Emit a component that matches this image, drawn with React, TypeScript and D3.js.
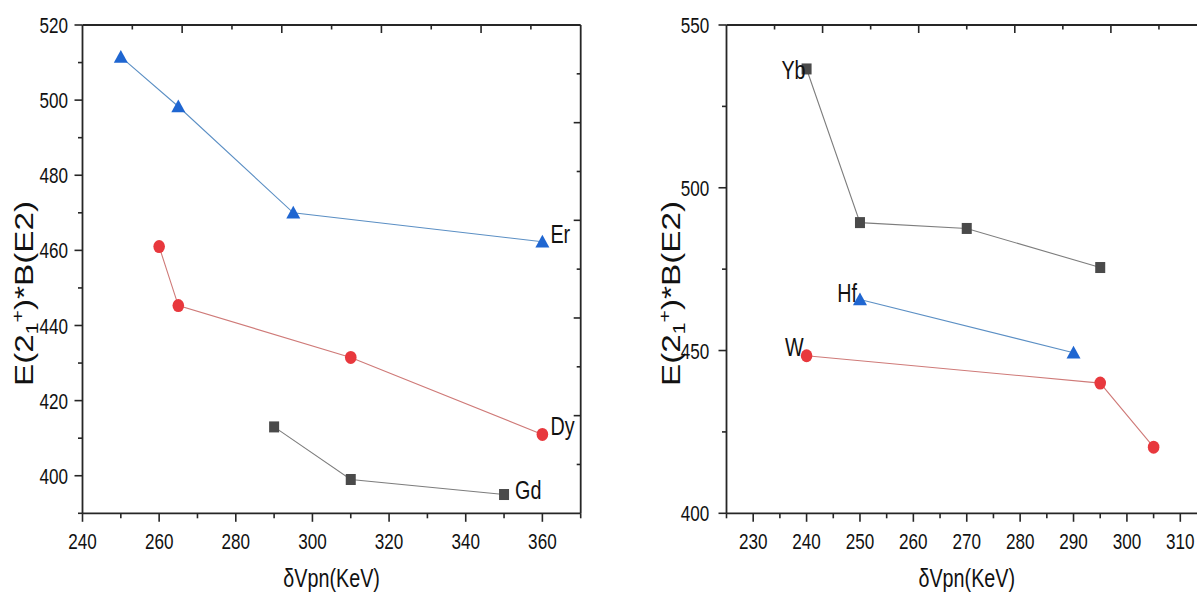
import React from 'react';
import * as d3 from 'd3';

// ---------- data ----------
const erX = [250, 265, 295, 360];
const erY = [511.5, 498.3, 470, 462.3];
const dyX = [260, 265, 310, 360];
const dyY = [461, 445.3, 431.5, 411];
const gdX = [290, 310, 350];
const gdY = [413, 399, 395];

const ybX = [240, 250, 270, 295];
const ybY = [536.5, 489.3, 487.5, 475.5];
const hfX = [250, 290];
const hfY = [465.7, 449.3];
const wX = [240, 295, 305];
const wY = [448.4, 440, 420.3];

const leftXDomain = [240, 370];
const leftYDomain = [390, 520];
const leftXTicks = [240, 260, 280, 300, 320, 340, 360];
const leftXMinor = [250, 270, 290, 310, 330, 350, 370];
const leftYTicks = [400, 420, 440, 460, 480, 500, 520];
const leftYMinor = [390, 410, 430, 450, 470, 490, 510];

const rightXDomain = [225, 315];
const rightYDomain = [400, 550];
const rightXTicks = [230, 240, 250, 260, 270, 280, 290, 300, 310];
const rightXMinor = [225, 235, 245, 255, 265, 275, 285, 295, 305, 315];
const rightYTicks = [400, 450, 500, 550];
const rightYMinor = [425, 475, 525];

const xTitle = 'δVpn(KeV)';

// ---------- styles ----------
const FONT = "'Liberation Sans', Arial, sans-serif";
const SQUEEZE = 0.76;
const AXIS = '#262626';
const BLUE = '#1f66d1';
const BLUE_LINE = '#5b8fc4';
const RED = '#e8383d';
const RED_LINE = '#cf7a78';
const GRAY = '#4a4a4a';
const GRAY_LINE = '#7d7d7d';

type Series = {
  xs: number[]; ys: number[]; marker: 'tri' | 'circ' | 'sq';
  color: string; lineColor: string; name: string;
  labelIdx: number; ldx: number; ldy: number; anchor: 'start' | 'end';
};

const leftSeries: Series[] = [
  { xs: erX, ys: erY, marker: 'tri', color: BLUE, lineColor: BLUE_LINE, name: 'Er', labelIdx: 3, ldx: 8, ldy: 1, anchor: 'start' },
  { xs: dyX, ys: dyY, marker: 'circ', color: RED, lineColor: RED_LINE, name: 'Dy', labelIdx: 3, ldx: 8, ldy: 1, anchor: 'start' },
  { xs: gdX, ys: gdY, marker: 'sq', color: GRAY, lineColor: GRAY_LINE, name: 'Gd', labelIdx: 2, ldx: 11, ldy: 4, anchor: 'start' },
];
const rightSeries: Series[] = [
  { xs: ybX, ys: ybY, marker: 'sq', color: GRAY, lineColor: GRAY_LINE, name: 'Yb', labelIdx: 0, ldx: -1, ldy: 10.5, anchor: 'end' },
  { xs: hfX, ys: hfY, marker: 'tri', color: BLUE, lineColor: BLUE_LINE, name: 'Hf', labelIdx: 0, ldx: -3, ldy: 3, anchor: 'end' },
  { xs: wX, ys: wY, marker: 'circ', color: RED, lineColor: RED_LINE, name: 'W', labelIdx: 0, ldx: -3, ldy: 0, anchor: 'end' },
];

type PanelCfg = {
  xDomain: number[]; yDomain: number[]; xRange: [number, number]; yRange: [number, number];
  xTicks: number[]; xMinor: number[]; yTicks: number[]; yMinor: number[];
  series: Series[]; yLabelGap: number; yTitleX: number;
};

const panels: PanelCfg[] = [
  {
    xDomain: leftXDomain, yDomain: leftYDomain, xRange: [82.5, 580.7], yRange: [513.3, 25],
    xTicks: leftXTicks, xMinor: leftXMinor, yTicks: leftYTicks, yMinor: leftYMinor,
    series: leftSeries, yLabelGap: 14.5, yTitleX: 32.5,
  },
  {
    xDomain: rightXDomain, yDomain: rightYDomain, xRange: [726.5, 1207], yRange: [513.3, 25],
    xTicks: rightXTicks, xMinor: rightXMinor, yTicks: rightYTicks, yMinor: rightYMinor,
    series: rightSeries, yLabelGap: 17.2, yTitleX: 680,
  },
];

function NText({ x, y, size, anchor, children, dy }: { x: number; y: number; size: number; anchor: string; children: React.ReactNode; dy?: string }) {
  return (
    <text transform={`translate(${x},${y}) scale(${SQUEEZE},1)`} dy={dy} textAnchor={anchor}
      fontFamily={FONT} fontSize={size} fill="#111">{children}</text>
  );
}

function Marker({ kind, cx, cy, color }: { kind: string; cx: number; cy: number; color: string }) {
  if (kind === 'tri') {
    return <path d={`M${cx},${cy - 7} L${cx + 7},${cy + 5.8} L${cx - 7},${cy + 5.8} Z`} fill={color} />;
  }
  if (kind === 'circ') {
    return <ellipse cx={cx} cy={cy} rx={5.8} ry={6.5} fill={color} />;
  }
  return <rect x={cx - 5} y={cy - 5.5} width={10} height={11} fill={color} />;
}

function Panel({ cfg }: { cfg: PanelCfg }) {
  const x = d3.scaleLinear().domain(cfg.xDomain).range(cfg.xRange);
  const y = d3.scaleLinear().domain(cfg.yDomain).range(cfg.yRange);
  const fx = d3.scaleLinear().domain([0, 10]).range(cfg.xRange);
  const fy = d3.scaleLinear().domain([0, 10]).range(cfg.yRange);
  const [x0, x1] = cfg.xRange;
  const [yb, yt] = cfg.yRange;
  const line = d3.line<[number, number]>().x(d => x(d[0])).y(d => y(d[1]));
  const frameTicks = d3.range(1, 10);
  const cx = (x0 + x1) / 2;

  return (
    <g>
      {cfg.series.map(s => (
        <path key={'l' + s.name} d={line(s.xs.map((v, i) => [v, s.ys[i]] as [number, number])) || ''}
          fill="none" stroke={s.lineColor} strokeWidth={1.1} />
      ))}
      {cfg.series.map(s => s.xs.map((v, i) => (
        <Marker key={s.name + i} kind={s.marker} cx={x(v)} cy={y(s.ys[i])} color={s.color} />
      )))}
      {cfg.series.map(s => (
        <NText key={'t' + s.name} x={x(s.xs[s.labelIdx]) + s.ldx} y={y(s.ys[s.labelIdx]) + s.ldy}
          anchor={s.anchor} size={26}>{s.name}</NText>
      ))}

      {/* frame */}
      <line x1={x0} x2={x1} y1={yb} y2={yb} stroke={AXIS} strokeWidth={1.8} />
      <line x1={x0} x2={x1} y1={yt} y2={yt} stroke={AXIS} strokeWidth={1.8} />
      <line x1={x0} x2={x0} y1={yb} y2={yt} stroke={AXIS} strokeWidth={1.8} />
      <line x1={x1} x2={x1} y1={yb} y2={yt} stroke={AXIS} strokeWidth={1.8} />

      {/* bottom ticks (outward) */}
      {cfg.xTicks.map(t => (
        <line key={'bx' + t} x1={x(t)} x2={x(t)} y1={yb} y2={yb + 8.5} stroke={AXIS} strokeWidth={1.6} />
      ))}
      {cfg.xMinor.map(t => (
        <line key={'bm' + t} x1={x(t)} x2={x(t)} y1={yb} y2={yb + 5} stroke={AXIS} strokeWidth={1.6} />
      ))}
      {cfg.xTicks.map(t => (
        <NText key={'bl' + t} x={x(t)} y={548.5} anchor="middle" size={22.5}>{t}</NText>
      ))}

      {/* left ticks (outward) */}
      {cfg.yTicks.map(t => (
        <line key={'ly' + t} x1={x0 - 8} x2={x0} y1={y(t)} y2={y(t)} stroke={AXIS} strokeWidth={1.6} />
      ))}
      {cfg.yMinor.map(t => (
        <line key={'lm' + t} x1={x0 - 4.5} x2={x0} y1={y(t)} y2={y(t)} stroke={AXIS} strokeWidth={1.6} />
      ))}
      {cfg.yTicks.map(t => (
        <NText key={'ll' + t} x={x0 - cfg.yLabelGap} y={y(t)} dy="0.36em" anchor="end" size={22.5}>{t}</NText>
      ))}

      {/* top / right frame ticks (inward) */}
      {frameTicks.map(k => (
        <line key={'tt' + k} x1={fx(k)} x2={fx(k)} y1={yt} y2={yt + (k % 2 === 0 ? 8 : 4.5)} stroke={AXIS} strokeWidth={1.6} />
      ))}
      {frameTicks.map(k => (
        <line key={'rt' + k} x1={x1} x2={x1 - (k % 2 === 0 ? 7 : 4)} y1={fy(k)} y2={fy(k)} stroke={AXIS} strokeWidth={1.6} />
      ))}

      {/* axis titles */}
      <NText x={cx} y={587} anchor="middle" size={26}>{xTitle}</NText>
      <text transform={`translate(${cfg.yTitleX},${293.5}) rotate(-90) scale(1.33,1)`} textAnchor="middle"
        fontFamily={FONT} fontSize={25} fill="#111">
        E(2<tspan fontSize={16} dy={5}>1</tspan><tspan fontSize={16} dy={-15}>+</tspan><tspan dy={10}>)*B(E2)</tspan>
      </text>
    </g>
  );
}

export default function App() {
  return (
    <svg width={1197} height={593} style={{ position: 'absolute', left: 0, top: 0, background: '#fff', overflow: 'hidden' }}>
      <rect x={0} y={0} width={1197} height={593} fill="#fff" />
      {panels.map((p, i) => <Panel key={i} cfg={p} />)}
    </svg>
  );
}
